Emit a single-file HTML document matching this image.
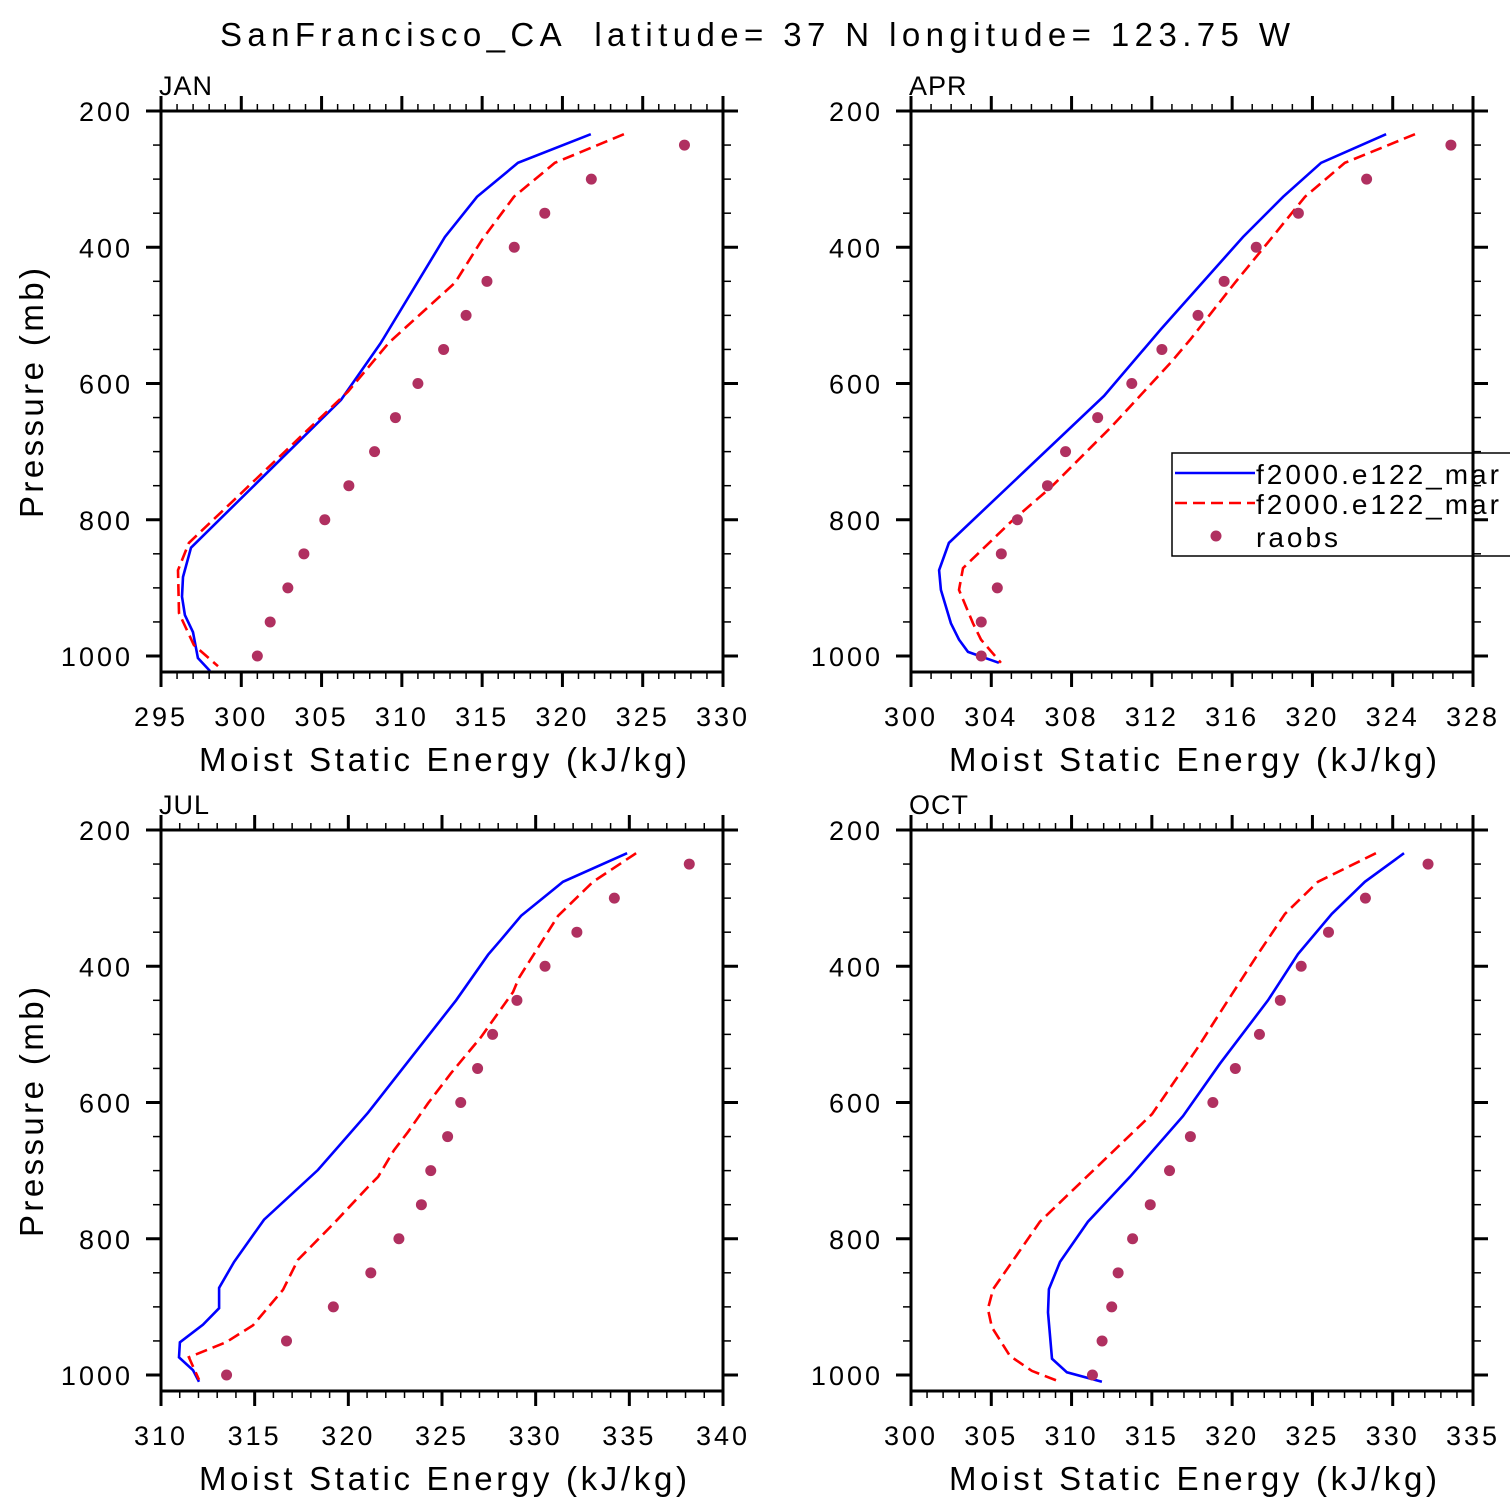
<!DOCTYPE html>
<html><head><meta charset="utf-8"><style>
html,body{margin:0;padding:0;background:#fff;width:1510px;height:1510px;overflow:hidden}
svg{display:block}
text{font-family:"Liberation Sans",sans-serif;fill:#000}
</style></head><body>
<svg id="chart" width="1510" height="1510" viewBox="0 0 1510 1510" xmlns="http://www.w3.org/2000/svg">
<text x="220" y="46" font-size="33" textLength="1070" lengthAdjust="spacing" xml:space="preserve">SanFrancisco_CA  latitude= 37 N longitude= 123.75 W</text>
</svg>
<script>
const obsLevels = [250,300,350,400,450,500,550,600,650,700,750,800,850,900,950,1000];
const panelNames = ["JAN","APR","JUL","OCT"];
const janBlueP = [234,276,326,385,540,624,841,884,913,940,965,1003,1022];
const janBlue  = [321.77,317.23,314.68,312.68,308.70,306.21,296.87,296.37,296.31,296.49,296.99,297.30,298.05];
const janRedP  = [234,276,326,389,452,540,612,834,874,937,984,1015];
const janRed   = [323.83,319.53,316.98,314.99,313.31,309.20,306.64,296.74,296.06,296.12,297.05,298.55];
const janObs   = [327.6,321.8,318.9,317.0,315.3,314.0,312.6,311.0,309.6,308.3,306.7,305.2,303.9,302.9,301.8,301.0];
const aprBlueP = [234,276,326,385,520,618,834,874,903,952,976,994,1010];
const aprBlue  = [323.67,320.43,318.54,316.54,312.46,309.62,301.89,301.40,301.49,301.99,302.39,302.84,304.38];
const aprRedP  = [234,276,326,389,452,536,569,664,752,803,871,903,952,976,1010];
const aprRed   = [325.11,321.62,319.63,317.89,316.14,313.90,312.95,309.97,306.98,304.98,302.59,302.39,303.09,303.49,304.48];
const aprObs   = [326.9,322.7,319.3,317.2,315.6,314.3,312.5,311.0,309.3,307.7,306.8,305.3,304.5,304.3,303.5,303.5];
const julBlueP = [234,276,326,361,383,450,615,699,772,834,872,902,926,952,974,993,1010];
const julBlue  = [334.88,331.46,329.22,328.15,327.46,325.75,321.05,318.38,315.50,313.90,313.10,313.10,312.24,311.01,310.96,311.71,312.03];
const julRedP  = [234,276,326,417,438,504,557,601,643,670,709,724,777,831,875,927,952,974,1007];
const julRed   = [335.36,333.06,331.20,329.11,328.79,327.08,325.48,324.26,323.19,322.44,321.59,321.05,319.24,317.31,316.51,314.91,313.47,311.49,312.03];
const julObs   = [338.2,334.2,332.2,330.5,329.0,327.7,326.9,326.0,325.3,324.4,323.9,322.7,321.2,319.2,316.7,313.5];
const octBlueP = [234,276,323,382,450,543,620,709,775,834,874,908,976,996,1010];
const octBlue  = [330.70,328.27,326.21,324.10,322.23,319.24,316.94,313.64,311.02,309.28,308.59,308.53,308.78,309.71,311.89];
const octRedP  = [234,276,323,382,450,521,617,775,874,903,930,972,994,1010];
const octRed   = [328.95,325.34,323.29,321.61,319.74,317.81,315.01,308.03,305.11,304.79,305.04,306.16,307.53,309.28];
const octObs   = [332.2,328.3,326.0,324.3,323.0,321.7,320.2,318.8,317.4,316.1,314.9,313.8,312.9,312.5,311.9,311.3];
const xMins = [295,300,310,300];
const xMaxs = [330,328,340,335];
const xSteps = [5,4,5,5];
const yTicks = [200,400,600,800,1000];

const NS="http://www.w3.org/2000/svg";
const svg=document.getElementById('chart');
function mk(tag,attrs,parent){const e=document.createElementNS(NS,tag);for(const k in attrs)e.setAttribute(k,attrs[k]);(parent||svg).appendChild(e);return e;}
const series=[[janBlueP,janBlue,janRedP,janRed,janObs],[aprBlueP,aprBlue,aprRedP,aprRed,aprObs],[julBlueP,julBlue,julRedP,julRed,julObs],[octBlueP,octBlue,octRedP,octRed,octObs]];
const origins=[[161,111],[911,111],[161,830],[911,830]];
const W=562,H=561,PTOP=200,PPX=0.68125;
series.forEach((s,i)=>{
  const [x0,y0]=origins[i];
  const g=mk('g',{});
  
  
  const xs=v=>x0+(v-xMins[i])/(xMaxs[i]-xMins[i])*W;
  const ys=p=>y0+(p-PTOP)*PPX;
  const clipId='clip'+i;
  const cp=mk('clipPath',{id:clipId},g);mk('rect',{x:x0,y:y0,width:W,height:H},cp);
  const pts=(P,a)=>a.map((v,k)=>xs(v).toFixed(1)+','+ys(P[k]).toFixed(1)).join(' ');
  const b=mk('polyline',{points:pts(s[0],s[1]),fill:'none',stroke:'#0000ff','stroke-width':2.6,'clip-path':'url(#'+clipId+')'},g);
  
  
  const r=mk('polyline',{points:pts(s[2],s[3]),fill:'none',stroke:'#ff0000','stroke-width':2.6,'stroke-dasharray':'12,6','clip-path':'url(#'+clipId+')'},g);
  
  
  s[4].forEach((v,k)=>{const c=mk('circle',{cx:xs(v),cy:ys(obsLevels[k]),r:5.5,fill:'#b03060'},g);
    
    });
  if(i===1){
    const lg=mk('g',{},g);
    
    
    mk('rect',{x:1172,y:453,width:400,height:103,fill:'#fff',stroke:'#000','stroke-width':1.5},lg);
    mk('line',{x1:1175,y1:473,x2:1255,y2:473,stroke:'#0000ff','stroke-width':2.6},lg);
    mk('line',{x1:1175,y1:503,x2:1255,y2:503,stroke:'#ff0000','stroke-width':2.6,'stroke-dasharray':'12,6'},lg);
    mk('circle',{cx:1216,cy:536,r:5.5,fill:'#b03060'},lg);
    [['f2000.e122_mar',484],['f2000.e122_mar',514],['raobs',547]].forEach(([t,y])=>{const e=mk('text',{x:1256,y:y,'font-size':28,'letter-spacing':3},lg);e.textContent=t;
      
      });
  }
  mk('rect',{x:x0,y:y0,width:W,height:H,fill:'none',stroke:'#000','stroke-width':3},g);
  for(let v=xMins[i];v<=xMaxs[i]+1e-6;v+=1){
    const maj=(v-xMins[i])%xSteps[i]===0;const L=maj?15:7;const x=xs(v);
    mk('line',{x1:x,y1:y0+H,x2:x,y2:y0+H+L,stroke:'#000','stroke-width':maj?3:1.5},g);
    mk('line',{x1:x,y1:y0,x2:x,y2:y0-L,stroke:'#000','stroke-width':maj?3:1.5},g);
    if(maj){const t=mk('text',{x:x,y:y0+H+54,'text-anchor':'middle','font-size':27,'letter-spacing':3},g);t.textContent=v;
      
      }
  }
  for(let p=200;p<=1000;p+=50){
    const maj=p%200===0;const L=maj?15:8;const y=ys(p);
    mk('line',{x1:x0,y1:y,x2:x0-L,y2:y,stroke:'#000','stroke-width':maj?3:1.5},g);
    mk('line',{x1:x0+W,y1:y,x2:x0+W+L,y2:y,stroke:'#000','stroke-width':maj?3:1.5},g);
  }
  yTicks.forEach(p=>{const t=mk('text',{x:x0-28,y:ys(p)+10,'text-anchor':'end','font-size':27,'letter-spacing':3},g);t.textContent=p;
    
    });
  const pl=mk('text',{x:x0-2,y:y0-16,'font-size':27,'letter-spacing':1},g);pl.textContent=panelNames[i];
  
  
  const xt=mk('text',{x:x0+38,y:y0+H+99,'font-size':33,textLength:488,lengthAdjust:'spacing'},g);xt.textContent='Moist Static Energy (kJ/kg)';
  
  
  if(i%2===0){const yt=mk('text',{x:0,y:0,'font-size':33,textLength:250,lengthAdjust:'spacing',transform:'translate(43,'+(y0+407)+') rotate(-90)'},g);yt.textContent='Pressure (mb)';
    
    }
});
</script>
</body></html>
